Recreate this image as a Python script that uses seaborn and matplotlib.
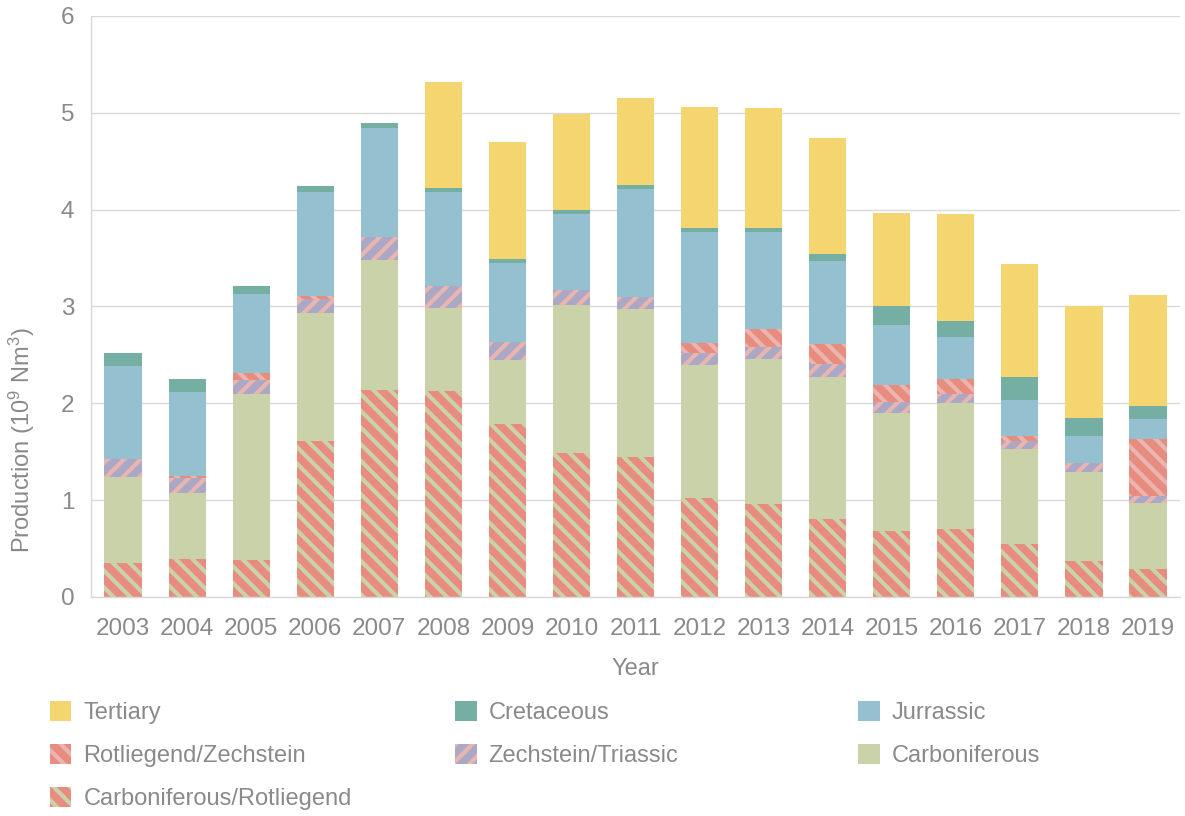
import numpy as np
import pandas as pd
import matplotlib
matplotlib.use("Agg")
import matplotlib.pyplot as plt
import seaborn as sns
from matplotlib.patches import Patch

# Data (10^9 Nm3 per year and reservoir)
years = ["2003", "2004", "2005", "2006", "2007", "2008", "2009", "2010", "2011",
         "2012", "2013", "2014", "2015", "2016", "2017", "2018", "2019"]
carb_rotliegend = [0.35, 0.39, 0.38, 1.61, 2.14, 2.13, 1.79, 1.49, 1.45,
                   1.02, 0.96, 0.81, 0.68, 0.70, 0.55, 0.37, 0.29]
carboniferous = [0.89, 0.68, 1.72, 1.32, 1.34, 0.85, 0.66, 1.53, 1.52,
                 1.38, 1.50, 1.46, 1.22, 1.30, 0.98, 0.92, 0.68]
zech_triassic = [0.19, 0.16, 0.14, 0.15, 0.24, 0.23, 0.18, 0.15, 0.13,
                 0.12, 0.12, 0.14, 0.11, 0.10, 0.08, 0.09, 0.07]
rotl_zechstein = [0.00, 0.02, 0.07, 0.03, 0.00, 0.00, 0.00, 0.00, 0.00,
                  0.10, 0.19, 0.20, 0.18, 0.15, 0.05, 0.00, 0.59]
jurassic = [0.96, 0.87, 0.82, 1.07, 1.12, 0.97, 0.82, 0.79, 1.11,
            1.15, 1.00, 0.86, 0.62, 0.44, 0.37, 0.28, 0.21]
cretaceous = [0.13, 0.13, 0.08, 0.06, 0.05, 0.04, 0.04, 0.04, 0.04,
              0.04, 0.04, 0.07, 0.20, 0.16, 0.24, 0.19, 0.13]
tertiary = [0.00, 0.00, 0.00, 0.00, 0.00, 1.10, 1.21, 0.99, 0.90,
            1.25, 1.24, 1.20, 0.96, 1.11, 1.17, 1.15, 1.15]

YELLOW = "#F5D56F"
TEAL = "#75AFA3"
BLUE = "#95C0CF"
GREEN = "#C9D2A8"
SALMON = "#E88C80"
PURPLE = "#ABA8C6"
PINK = "#E9B5AE"
TEXT = "#8a8a8a"
GRID = "#d9d9d9"

# name, values, face colour, hatch, hatch colour  (bottom -> top)
layers = [
    ("Carboniferous/Rotliegend", carb_rotliegend, SALMON, "\\\\", GREEN),
    ("Carboniferous", carboniferous, GREEN, None, None),
    ("Zechstein/Triassic", zech_triassic, PURPLE, "//", PINK),
    ("Rotliegend/Zechstein", rotl_zechstein, SALMON, "\\\\", PINK),
    ("Jurrassic", jurassic, BLUE, None, None),
    ("Cretaceous", cretaceous, TEAL, None, None),
    ("Tertiary", tertiary, YELLOW, None, None),
]

df = pd.DataFrame({"Year": years})
running = np.zeros(len(years))
for name, vals, *_ in layers:
    running = running + np.array(vals)
    df[name] = running

sns.set_theme(style="white")
plt.rcParams["font.family"] = ["Liberation Sans", "DejaVu Sans"]
plt.rcParams["mathtext.fontset"] = "custom"
plt.rcParams["mathtext.rm"] = "Liberation Sans"
plt.rcParams["mathtext.default"] = "regular"
plt.rcParams["hatch.linewidth"] = 3.0

fig = plt.figure(figsize=(11.85, 8.16), dpi=100)
ax = fig.add_axes([0.0768, 0.2684, 0.9190, 0.7120])

# stacked bars: draw cumulative totals from the top layer down
for name, vals, face, hatch, hcol in reversed(layers):
    sns.barplot(data=df, x="Year", y=name, color=face, saturation=1,
                width=0.58, errorbar=None, ax=ax, linewidth=0,
                hatch=hatch, edgecolor=hcol if hcol else face)

ax.set_xlim(-0.5, len(years) - 0.5)
ax.set_ylim(0, 6)
ax.set_yticks(range(0, 7))
ax.yaxis.grid(True, color=GRID, linewidth=1)
ax.set_axisbelow(True)
for s in ["top", "right"]:
    ax.spines[s].set_visible(False)
for s in ["left", "bottom"]:
    ax.spines[s].set_color(GRID)
    ax.spines[s].set_linewidth(1)

ax.set_xticks(np.arange(-0.5, len(years), 1), minor=True)
ax.tick_params(axis="x", which="major", length=0, pad=15, labelsize=17.5, labelcolor=TEXT)
ax.tick_params(axis="x", which="minor", length=5, width=1, color=GRID)
ax.tick_params(axis="y", length=7, width=1, color=GRID, pad=5, labelsize=17.5, labelcolor=TEXT)

ax.set_xlabel("Year", fontsize=17, color=TEXT, labelpad=13)
ax.set_ylabel("Production (10$^{9}$ Nm$^{3}$)", fontsize=17, color=TEXT)
ax.yaxis.set_label_coords(-0.050, 0.27)

def handle(face, hatch, hcol):
    return Patch(facecolor=face, hatch=hatch, edgecolor=hcol if hcol else face, linewidth=0)

lk = {name: (face, hatch, hcol) for name, _, face, hatch, hcol in layers}
columns = [
    ["Tertiary", "Rotliegend/Zechstein", "Carboniferous/Rotliegend"],
    ["Cretaceous", "Zechstein/Triassic"],
    ["Jurrassic", "Carboniferous"],
]
xs = [0.042, 0.384, 0.724]
for names, x in zip(columns, xs):
    leg = fig.legend(handles=[handle(*lk[n]) for n in names], labels=names,
                     loc="upper left", bbox_to_anchor=(x, 0.141), frameon=False,
                     fontsize=17, labelcolor=TEXT, handlelength=0.92, handleheight=0.92,
                     handletextpad=0.5, labelspacing=0.85, borderpad=0, borderaxespad=0)

fig.savefig("out.png", dpi=100)
